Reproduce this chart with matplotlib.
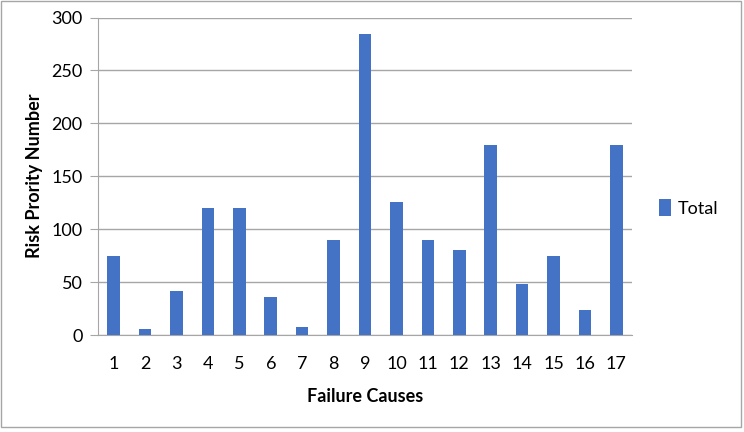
import matplotlib.pyplot as plt
from matplotlib.patches import Rectangle
import numpy as np

plt.rcParams['font.family'] = ['Lato', 'DejaVu Sans']

causes = [str(i) for i in range(1, 18)]
rpn = [75, 6, 42, 120, 120, 36, 8, 90, 284, 126, 90, 80, 180, 48, 75, 24, 180]

fig = plt.figure(figsize=(7.44, 4.32), dpi=100)
ax = fig.add_axes([98 / 744, 1 - 335 / 432, (632 - 98) / 744, (335 - 17.5) / 432])

x = np.arange(len(causes))
ax.bar(x, rpn, width=0.4, color='#4472C4', label='Total', zorder=3)

ax.set_xlim(-0.5, len(causes) - 0.5)
ax.set_ylim(0, 300)
ax.set_yticks(range(0, 301, 50))
ax.set_xticks(x)
ax.set_xticklabels(causes)
ax.grid(axis='y', color='#A6A6A6', linewidth=1, zorder=0)
for side in ['top', 'right']:
    ax.spines[side].set_visible(False)
ax.spines['left'].set_color('#A6A6A6')
ax.spines['bottom'].set_color('#A6A6A6')
ax.tick_params(axis='x', length=0, pad=15, labelsize=13)
ax.tick_params(axis='y', length=6, color='#A6A6A6', pad=5, labelsize=13)

ax.set_xlabel('Failure Causes', fontsize=13, fontweight='bold', labelpad=12)
ax.set_ylabel('Risk Prority Number', fontsize=13, fontweight='bold', labelpad=6)

ax.legend(loc='center left', bbox_to_anchor=(1.02, 0.4), frameon=False,
          fontsize=13, handlelength=0.65, handleheight=1.0, handletextpad=0.4)

# outer chart border
fig.patches.append(Rectangle((1 / 744, 5 / 432), 740 / 744, 426 / 432, transform=fig.transFigure,
                             fill=False, edgecolor='#A6A6A6', linewidth=1))

fig.savefig('out.png', dpi=100)
